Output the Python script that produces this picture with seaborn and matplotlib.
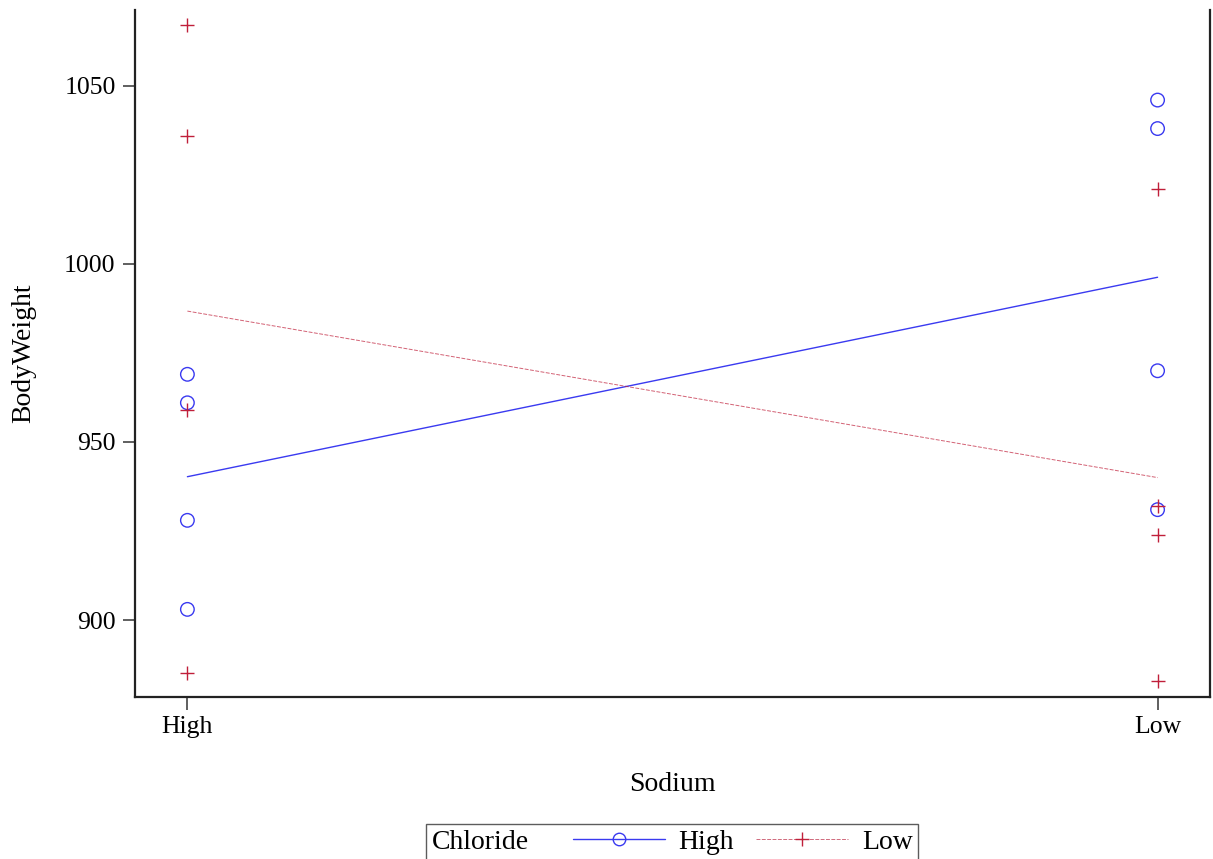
import matplotlib
matplotlib.use("Agg")
import matplotlib.pyplot as plt
import seaborn as sns
import pandas as pd
from matplotlib.lines import Line2D
from matplotlib.offsetbox import HPacker

# ---- data ----
sodium_levels = ["High", "Low"]
chloride_levels = ["High", "Low"]
# BodyWeight per Sodium x Chloride cell
bw_sodHigh_clHigh = [969, 961, 928, 903]
bw_sodHigh_clLow = [1067, 1036, 959, 885]
bw_sodLow_clHigh = [1046, 1038, 970, 931]
bw_sodLow_clLow = [1021, 932, 924, 883]
y_ticks = [900, 950, 1000, 1050]

rows = []
for sod, cl, vals in [("High", "High", bw_sodHigh_clHigh),
                      ("High", "Low", bw_sodHigh_clLow),
                      ("Low", "High", bw_sodLow_clHigh),
                      ("Low", "Low", bw_sodLow_clLow)]:
    for v in vals:
        rows.append({"Sodium": sod, "Chloride": cl, "BodyWeight": v})
df = pd.DataFrame(rows)
df["x"] = df["Sodium"].map({s: i for i, s in enumerate(sodium_levels)})

sns.set_theme(style="ticks")
plt.rcParams["font.family"] = ["Liberation Serif", "DejaVu Serif"]
plt.rcParams["text.color"] = "black"
plt.rcParams["axes.labelcolor"] = "black"
plt.rcParams["xtick.labelcolor"] = "black"
plt.rcParams["ytick.labelcolor"] = "black"

blue = "#3a3af0"
red = "#c01f3a"

fig = plt.figure(figsize=(12.13, 8.59), dpi=100)
ax = fig.add_axes([0.1113, 0.1886, 0.8862, 0.7998])

# mean lines
sub_h = df[df["Chloride"] == "High"]
sub_l = df[df["Chloride"] == "Low"]
sns.lineplot(data=sub_h, x="x", y="BodyWeight", estimator="mean", errorbar=None,
             color=blue, lw=1.0, ax=ax)
sns.lineplot(data=sub_l, x="x", y="BodyWeight", estimator="mean", errorbar=None,
             color=red, lw=0.7, ax=ax, alpha=0.7)
ax.lines[-1].set_dashes([4, 1.5])

# points
ax.scatter(sub_h["x"], sub_h["BodyWeight"], marker="o", s=95,
           facecolors="none", edgecolors=blue, linewidths=1.0, zorder=3)
ax.scatter(sub_l["x"], sub_l["BodyWeight"], marker="+", s=110,
           color=red, linewidths=1.0, zorder=3)

ax.set_xlim(-0.054, 1.054)
ax.set_ylim(878.4, 1071.3)
ax.set_xticks(range(len(sodium_levels)))
ax.set_xticklabels(sodium_levels)
ax.set_yticks(y_ticks)
ax.tick_params(axis="both", labelsize=18.5, length=9, width=1.2, color="#444444",
               pad=5, direction="out")
ax.set_xlabel("Sodium", fontsize=20, labelpad=24)
ax.set_ylabel("BodyWeight", fontsize=20, labelpad=20)

for s in ["left", "bottom", "right"]:
    ax.spines[s].set_visible(True)
    ax.spines[s].set_linewidth(1.6)
    ax.spines[s].set_color("#222222")
ax.spines["top"].set_visible(False)

# legend
handles = [
    Line2D([0], [0], color=blue, lw=1.0, marker="o", markersize=9,
           markerfacecolor="none", markeredgecolor=blue),
    Line2D([0], [0], color="#d06a7c", lw=0.7, dashes=[4, 1.5], marker="+",
           markersize=10, markeredgecolor=red),
]
leg = fig.legend(handles, chloride_levels, title="Chloride", ncol=2,
                 loc="center", bbox_to_anchor=(0.554, 0.0195), fontsize=20,
                 title_fontsize=20, frameon=True, fancybox=False,
                 edgecolor="#333333", handlelength=3.3, handletextpad=0.5,
                 columnspacing=0.8, borderpad=0.2)
leg.get_frame().set_linewidth(1.0)
fs = 20
box = HPacker(pad=leg.borderpad * fs, sep=1.6 * fs, align="center",
              children=[leg._legend_title_box, leg._legend_handle_box])
box.set_figure(fig)
box.set_offset(leg._findoffset)
leg._legend_box = box

fig.savefig("out.png", dpi=100)
